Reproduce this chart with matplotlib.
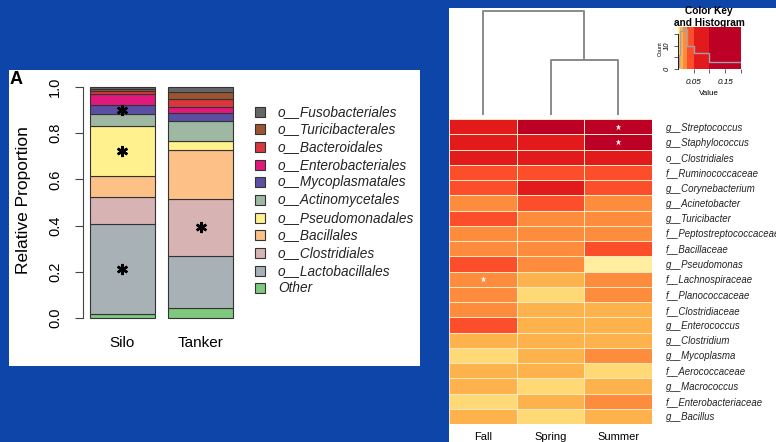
import numpy as np
import matplotlib
matplotlib.use('Agg')
import matplotlib.pyplot as plt
from matplotlib.colors import ListedColormap, BoundaryNorm
from matplotlib.patches import Rectangle

plt.rcParams['font.family'] = ['Liberation Sans', 'DejaVu Sans']

W, H = 776, 442

# ---- panel A: order level relative proportion ----
samples = ['Silo', 'Tanker']
orders = ['Other', 'o__Lactobacillales', 'o__Clostridiales', 'o__Bacillales',
          'o__Pseudomonadales', 'o__Actinomycetales', 'o__Mycoplasmatales',
          'o__Enterobacteriales', 'o__Bacteroidales', 'o__Turicibacterales',
          'o__Fusobacteriales']
silo = [0.017, 0.389, 0.118, 0.092, 0.216, 0.050, 0.040, 0.046, 0.014, 0.009, 0.009]
tanker = [0.043, 0.227, 0.244, 0.215, 0.039, 0.085, 0.033, 0.029, 0.033, 0.029, 0.023]
order_colors = ['#7fc97f', '#a7b1b6', '#d8b3b4', '#fdc086', '#fff18e', '#9eb8a2',
                '#5b4fa3', '#e0197b', '#d8383d', '#9a5430', '#666666']
silo_sig = ['o__Lactobacillales', 'o__Pseudomonadales', 'o__Mycoplasmatales']
tanker_sig = ['o__Clostridiales']

# ---- panel B: heatmap by season ----
seasons = ['Fall', 'Spring', 'Summer']
taxa = ['g__Streptococcus', 'g__Staphylococcus', 'o__Clostridiales', 'f__Ruminococcaceae',
        'g__Corynebacterium', 'g__Acinetobacter', 'g__Turicibacter',
        'f__Peptostreptococcaceae', 'f__Bacillaceae', 'g__Pseudomonas',
        'f__Lachnospiraceae', 'f__Planococcaceae', 'f__Clostridiaceae', 'g__Enterococcus',
        'g__Clostridium', 'g__Mycoplasma', 'f__Aerococcaceae', 'g__Macrococcus',
        'f__Enterobacteriaceae', 'g__Bacillus']
abund = np.array([
    [0.075, 0.165, 0.180],
    [0.068, 0.062, 0.125],
    [0.072, 0.066, 0.060],
    [0.042, 0.040, 0.038],
    [0.036, 0.055, 0.040],
    [0.024, 0.034, 0.023],
    [0.033, 0.022, 0.021],
    [0.021, 0.020, 0.022],
    [0.020, 0.019, 0.035],
    [0.038, 0.019, 0.004],
    [0.022, 0.014, 0.021],
    [0.020, 0.007, 0.022],
    [0.019, 0.013, 0.012],
    [0.031, 0.012, 0.013],
    [0.013, 0.012, 0.011],
    [0.006, 0.011, 0.019],
    [0.011, 0.012, 0.006],
    [0.012, 0.006, 0.011],
    [0.006, 0.011, 0.020],
    [0.010, 0.006, 0.012],
])
sig_cells = [(0, 2), (1, 2), (10, 0)]  # (row, col)
breaks = [0, 0.005, 0.008, 0.017, 0.029, 0.05, 0.1, 0.2]
key_colors = ['#ffeda0', '#fed976', '#feb24c', '#fd8d3c', '#fc4e2a', '#e31a1c', '#bd0026']
dendro_heights = [0.52, 1.0]  # Spring+Summer, then Fall


def px_axes(fig, x0, y0, x1, y1):
    return fig.add_axes([x0 / W, 1 - y1 / H, (x1 - x0) / W, (y1 - y0) / H])


fig = plt.figure(figsize=(W / 100, H / 100), dpi=100, facecolor='#0d45a8')

canvas = px_axes(fig, 0, 0, W, H)
canvas.set_xlim(0, W)
canvas.set_ylim(H, 0)
canvas.axis('off')
left_panel = Rectangle((9, 70), 411, 296, facecolor='white', edgecolor='none')
canvas.add_patch(left_panel)
right_panel = Rectangle((449, 8), 327, 434, facecolor='white', edgecolor='none')
canvas.add_patch(right_panel)
canvas.text(10, 80, 'A', fontsize=13, fontweight='bold', va='center', ha='left')

# legend, drawn top to bottom like R
for i, (name, col) in enumerate(zip(orders[::-1], order_colors[::-1])):
    y = 111.7 + i * 17.66
    canvas.add_patch(Rectangle((255, y - 5), 10, 10, facecolor=col,
                               edgecolor='#333333', lw=0.8))
    t = canvas.text(278, y, name, fontsize=9.8, style='italic', va='center',
                    ha='left', color='#222222')
    t.set_clip_path(left_panel)

# stacked bars
ax = px_axes(fig, 83, 87, 240, 318)
x = np.array([0.7, 1.9])
bottom = np.zeros(2)
for j, name in enumerate(orders):
    vals = np.array([silo[j], tanker[j]])
    ax.bar(x, vals, width=1.0, bottom=bottom, color=order_colors[j],
           edgecolor='#333333', lw=0.8, clip_on=False)
    for k, sig in enumerate([silo_sig, tanker_sig]):
        if name in sig:
            ax.plot(x[k], bottom[k] + vals[k] / 2, marker=(6, 2, 0), ms=8,
                    mew=1.8, color='black')
    bottom += vals
ax.set_xlim(0.1, 2.5)
ax.set_ylim(0, 1)
for s in ['top', 'right', 'bottom']:
    ax.spines[s].set_visible(False)
ax.spines['left'].set_color('#444444')
ax.set_yticks(np.arange(0, 1.01, 0.2))
ax.set_yticklabels(['%.1f' % v for v in np.arange(0, 1.01, 0.2)], rotation=90,
                   va='center', fontsize=10.5)
ax.tick_params(axis='y', length=6, pad=9, color='#444444')
ax.set_xticks(x)
ax.set_xticklabels(samples, fontsize=11)
ax.tick_params(axis='x', length=0, pad=13)
ax.set_ylabel('Relative Proportion', fontsize=12.5)
ax.yaxis.set_label_coords(-0.33, 0.51)
ax.patch.set_alpha(0)

# heatmap
cmap = ListedColormap(key_colors)
norm = BoundaryNorm(breaks, cmap.N)
hm = px_axes(fig, 449, 119, 652, 424)
hm.pcolormesh(np.arange(4), np.arange(21), abund, cmap=cmap, norm=norm,
              edgecolors='#fbe6c0', linewidth=0.7)
for r, c in sig_cells:
    hm.plot(c + 0.5, r + 0.5, marker='*', ms=4.5, color='white', mec='none')
hm.set_xlim(0, 3)
hm.set_ylim(20, 0)
for s in hm.spines.values():
    s.set_visible(False)
hm.yaxis.tick_right()
hm.set_yticks(np.arange(20) + 0.5)
hm.set_yticklabels(taxa, fontsize=6.9, style='italic', color='#222222')
for t in hm.get_yticklabels():
    t.set_clip_path(right_panel)
hm.set_xticks(np.arange(3) + 0.5)
hm.set_xticklabels(seasons, fontsize=8)
hm.tick_params(axis='y', length=0, pad=10)
hm.tick_params(axis='x', length=0, pad=6)

# column dendrogram
dn = px_axes(fig, 449, 11, 652, 114)
leaf_x = np.arange(3) + 0.5
h1, h2 = dendro_heights
inner = (leaf_x[1] + leaf_x[2]) / 2
dn.plot([leaf_x[1], leaf_x[1], leaf_x[2], leaf_x[2]], [0, h1, h1, 0],
        color='#8a8a8a', lw=1.4, clip_on=False)
dn.plot([leaf_x[0], leaf_x[0], inner, inner], [0, h2, h2, h1],
        color='#8a8a8a', lw=1.4, clip_on=False)
dn.set_xlim(0, 3)
dn.set_ylim(0, 1)
dn.axis('off')

# color key and histogram
key = px_axes(fig, 677.7, 27, 741, 69.3)
mids = [[(breaks[i] + breaks[i + 1]) / 2 for i in range(len(breaks) - 1)]]
key.pcolormesh(breaks, [0, 1], mids, cmap=cmap, norm=norm)
counts, _ = np.histogram(abund.ravel(), bins=breaks)
hy = np.append(counts, counts[-1])
key.step(breaks, hy / hy.max() * 0.95, where='post', color='#a0a0aa', lw=1)
key.set_xlim(0, 0.2)
key.set_ylim(0, 1)
cnt_ticks = np.array([0, 5, 10, 15])
key.set_yticks(cnt_ticks / hy.max() * 0.95)
key.set_yticklabels(['0', '', '10', ''], rotation=90, va='center',
                    fontsize=5.5, style='italic')
key.set_xticks([0.05, 0.1, 0.15, 0.2])
key.set_xticklabels(['0.05', '', '0.15', ''], fontsize=5.9, style='italic')
key.tick_params(length=3, width=0.6, pad=2, color='#444444')
key.tick_params(axis='x', pad=4)
for s in ['top', 'right', 'bottom']:
    key.spines[s].set_visible(False)
key.spines['left'].set_bounds(0, 15 / hy.max() * 0.95)
key.spines['left'].set_linewidth(0.6)
key.set_xlabel('Value', fontsize=5.8, labelpad=3)
key.set_ylabel('Count', fontsize=4, labelpad=1)
canvas.text(709, 11.5, 'Color Key', fontsize=7.3, fontweight='bold', ha='center', va='center')
canvas.text(709, 23.5, 'and Histogram', fontsize=7.3, fontweight='bold', ha='center', va='center')

fig.savefig('out.png', dpi=100, facecolor=fig.get_facecolor())
